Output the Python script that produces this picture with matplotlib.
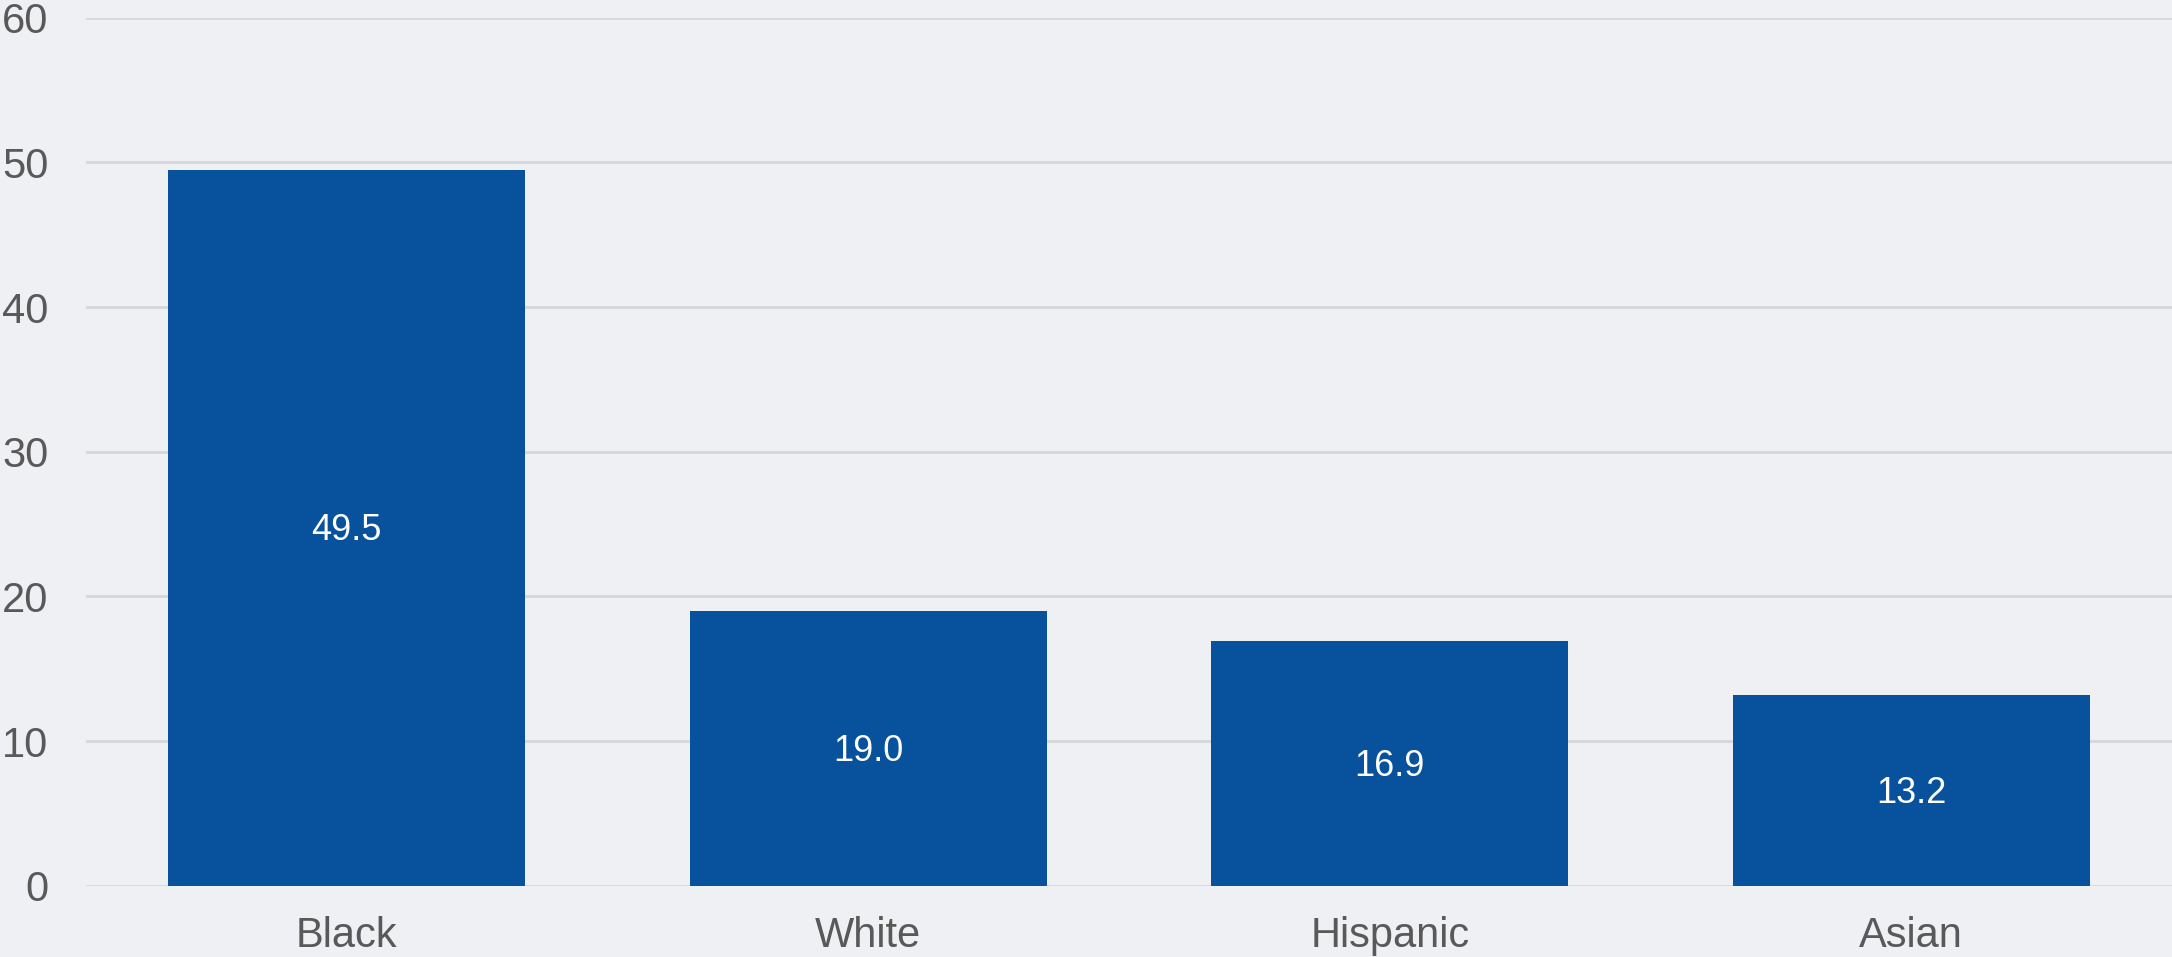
import matplotlib.pyplot as plt

plt.rcParams['font.family'] = ['Liberation Sans', 'DejaVu Sans']

groups = ["Black", "White", "Hispanic", "Asian"]
values = [49.5, 19.0, 16.9, 13.2]
yticks = [0, 10, 20, 30, 40, 50, 60]

bg = "#EFF0F4"
bar_color = "#08519C"
text_color = "#595959"

fig = plt.figure(figsize=(21.72, 9.57), dpi=100, facecolor=bg)
ax = fig.add_axes([86 / 2172, 1 - 885.7 / 957, (2172 - 86) / 2172, (885.7 - 17.7) / 957])
ax.set_facecolor(bg)

x = range(len(groups))
bars = ax.bar(x, values, width=0.685, color=bar_color, zorder=2)

# labels in the middle of each bar
for xi, v in zip(x, values):
    ax.text(xi, v / 2 - 0.2, f"{v:.1f}", ha="center", va="center",
            color="white", fontsize=26, zorder=3)

ax.set_xlim(-0.5, 3.5)
ax.set_ylim(0, 60)
ax.set_yticks(yticks)
ax.set_xticks(list(x))
ax.set_xticklabels(groups)
ax.tick_params(axis="y", length=0, pad=27, labelsize=30, labelcolor=text_color)
ax.tick_params(axis="x", length=0, pad=22, labelsize=30, labelcolor=text_color)

ax.grid(axis="y", color="#D6D7DB", linewidth=2, zorder=1)
ax.set_axisbelow(True)
for s in ax.spines.values():
    s.set_visible(False)

fig.savefig("out.png", dpi=100, facecolor=bg)
